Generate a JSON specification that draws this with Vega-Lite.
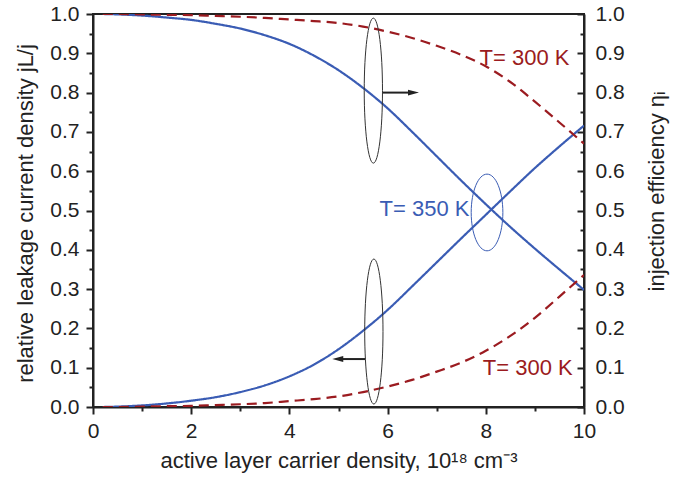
{
  "$schema": "https://vega.github.io/schema/vega-lite/v6.json",
  "width": 491,
  "height": 393,
  "autosize": "none",
  "padding": {"left": 93, "top": 14, "right": 100, "bottom": 70},
  "background": "white",
  "config": {
    "view": {"stroke": "#222", "strokeWidth": 2},
    "font": "Liberation Sans",
    "axis": {
      "grid": false,
      "labelFont": "Liberation Sans",
      "titleFont": "Liberation Sans",
      "labelFontSize": 21,
      "titleFontSize": 22,
      "titleFontWeight": "normal",
      "labelColor": "#222",
      "titleColor": "#222",
      "domainColor": "#222",
      "tickColor": "#222",
      "domainWidth": 2,
      "tickWidth": 2,
      "labelFlush": false,
      "labelOverlap": false
    }
  },
  "datasets": {
    "curves": [
      {"x": 0.2, "v": 0.0, "series": "L350", "temp": "350 K"},
      {"x": 0.5, "v": 0.001, "series": "L350", "temp": "350 K"},
      {"x": 1, "v": 0.004, "series": "L350", "temp": "350 K"},
      {"x": 1.5, "v": 0.009, "series": "L350", "temp": "350 K"},
      {"x": 2, "v": 0.016, "series": "L350", "temp": "350 K"},
      {"x": 2.5, "v": 0.025, "series": "L350", "temp": "350 K"},
      {"x": 3, "v": 0.038, "series": "L350", "temp": "350 K"},
      {"x": 3.5, "v": 0.055, "series": "L350", "temp": "350 K"},
      {"x": 4, "v": 0.078, "series": "L350", "temp": "350 K"},
      {"x": 4.5, "v": 0.108, "series": "L350", "temp": "350 K"},
      {"x": 5, "v": 0.147, "series": "L350", "temp": "350 K"},
      {"x": 5.5, "v": 0.194, "series": "L350", "temp": "350 K"},
      {"x": 6, "v": 0.247, "series": "L350", "temp": "350 K"},
      {"x": 6.5, "v": 0.307, "series": "L350", "temp": "350 K"},
      {"x": 7, "v": 0.368, "series": "L350", "temp": "350 K"},
      {"x": 7.5, "v": 0.429, "series": "L350", "temp": "350 K"},
      {"x": 8, "v": 0.489, "series": "L350", "temp": "350 K"},
      {"x": 8.5, "v": 0.549, "series": "L350", "temp": "350 K"},
      {"x": 9, "v": 0.608, "series": "L350", "temp": "350 K"},
      {"x": 9.5, "v": 0.663, "series": "L350", "temp": "350 K"},
      {"x": 10, "v": 0.716, "series": "L350", "temp": "350 K"},
      {"x": 0.2, "v": 1.0, "series": "E350", "temp": "350 K"},
      {"x": 0.5, "v": 0.999, "series": "E350", "temp": "350 K"},
      {"x": 1, "v": 0.996, "series": "E350", "temp": "350 K"},
      {"x": 1.5, "v": 0.991, "series": "E350", "temp": "350 K"},
      {"x": 2, "v": 0.985, "series": "E350", "temp": "350 K"},
      {"x": 2.5, "v": 0.975, "series": "E350", "temp": "350 K"},
      {"x": 3, "v": 0.963, "series": "E350", "temp": "350 K"},
      {"x": 3.5, "v": 0.946, "series": "E350", "temp": "350 K"},
      {"x": 4, "v": 0.924, "series": "E350", "temp": "350 K"},
      {"x": 4.5, "v": 0.894, "series": "E350", "temp": "350 K"},
      {"x": 5, "v": 0.857, "series": "E350", "temp": "350 K"},
      {"x": 5.5, "v": 0.812, "series": "E350", "temp": "350 K"},
      {"x": 6, "v": 0.76, "series": "E350", "temp": "350 K"},
      {"x": 6.5, "v": 0.7, "series": "E350", "temp": "350 K"},
      {"x": 7, "v": 0.638, "series": "E350", "temp": "350 K"},
      {"x": 7.5, "v": 0.576, "series": "E350", "temp": "350 K"},
      {"x": 8, "v": 0.516, "series": "E350", "temp": "350 K"},
      {"x": 8.5, "v": 0.458, "series": "E350", "temp": "350 K"},
      {"x": 9, "v": 0.403, "series": "E350", "temp": "350 K"},
      {"x": 9.5, "v": 0.35, "series": "E350", "temp": "350 K"},
      {"x": 10, "v": 0.298, "series": "E350", "temp": "350 K"},
      {"x": 0.2, "v": 0.0, "series": "L300", "temp": "300 K"},
      {"x": 0.5, "v": 0.0, "series": "L300", "temp": "300 K"},
      {"x": 1, "v": 0.001, "series": "L300", "temp": "300 K"},
      {"x": 1.5, "v": 0.002, "series": "L300", "temp": "300 K"},
      {"x": 2, "v": 0.003, "series": "L300", "temp": "300 K"},
      {"x": 2.5, "v": 0.005, "series": "L300", "temp": "300 K"},
      {"x": 3, "v": 0.007, "series": "L300", "temp": "300 K"},
      {"x": 3.5, "v": 0.01, "series": "L300", "temp": "300 K"},
      {"x": 4, "v": 0.015, "series": "L300", "temp": "300 K"},
      {"x": 4.5, "v": 0.02, "series": "L300", "temp": "300 K"},
      {"x": 5, "v": 0.027, "series": "L300", "temp": "300 K"},
      {"x": 5.5, "v": 0.038, "series": "L300", "temp": "300 K"},
      {"x": 6, "v": 0.052, "series": "L300", "temp": "300 K"},
      {"x": 6.5, "v": 0.069, "series": "L300", "temp": "300 K"},
      {"x": 7, "v": 0.09, "series": "L300", "temp": "300 K"},
      {"x": 7.5, "v": 0.113, "series": "L300", "temp": "300 K"},
      {"x": 8, "v": 0.143, "series": "L300", "temp": "300 K"},
      {"x": 8.5, "v": 0.181, "series": "L300", "temp": "300 K"},
      {"x": 9, "v": 0.227, "series": "L300", "temp": "300 K"},
      {"x": 9.5, "v": 0.281, "series": "L300", "temp": "300 K"},
      {"x": 10, "v": 0.336, "series": "L300", "temp": "300 K"},
      {"x": 0.2, "v": 1.0, "series": "E300", "temp": "300 K"},
      {"x": 0.5, "v": 1.0, "series": "E300", "temp": "300 K"},
      {"x": 1, "v": 0.999, "series": "E300", "temp": "300 K"},
      {"x": 1.5, "v": 0.998, "series": "E300", "temp": "300 K"},
      {"x": 2, "v": 0.997, "series": "E300", "temp": "300 K"},
      {"x": 2.5, "v": 0.995, "series": "E300", "temp": "300 K"},
      {"x": 3, "v": 0.993, "series": "E300", "temp": "300 K"},
      {"x": 3.5, "v": 0.99, "series": "E300", "temp": "300 K"},
      {"x": 4, "v": 0.986, "series": "E300", "temp": "300 K"},
      {"x": 4.5, "v": 0.982, "series": "E300", "temp": "300 K"},
      {"x": 5, "v": 0.977, "series": "E300", "temp": "300 K"},
      {"x": 5.5, "v": 0.968, "series": "E300", "temp": "300 K"},
      {"x": 6, "v": 0.955, "series": "E300", "temp": "300 K"},
      {"x": 6.5, "v": 0.939, "series": "E300", "temp": "300 K"},
      {"x": 7, "v": 0.919, "series": "E300", "temp": "300 K"},
      {"x": 7.5, "v": 0.896, "series": "E300", "temp": "300 K"},
      {"x": 8, "v": 0.867, "series": "E300", "temp": "300 K"},
      {"x": 8.5, "v": 0.827, "series": "E300", "temp": "300 K"},
      {"x": 9, "v": 0.777, "series": "E300", "temp": "300 K"},
      {"x": 9.5, "v": 0.724, "series": "E300", "temp": "300 K"},
      {"x": 10, "v": 0.67, "series": "E300", "temp": "300 K"}
    ],
    "ellipses": [
      {"x": 5.71, "y": 0.805},
      {"x": 5.72, "y": 0.192}
    ],
    "ellipse350": [
      {"x": 8.025, "y": 0.495}
    ],
    "arrows": [
      {"x": 5.904, "x2": 6.45, "y": 0.8},
      {"x": 5.545, "x2": 5.05, "y": 0.122}
    ],
    "heads": [
      {"x": 6.64, "y": 0.8, "dir": "right"},
      {"x": 4.873, "y": 0.122, "dir": "left"}
    ],
    "labels": [
      {"x": 7.873, "y": 0.87, "text": "T= 300 K", "temp": "300 K"},
      {"x": 7.94, "y": 0.081, "text": "T= 300 K", "temp": "300 K"},
      {"x": 5.837, "y": 0.486, "text": "T= 350 K", "temp": "350 K"}
    ]
  },
  "layer": [
    {
      "data": {"name": "curves"},
      "mark": {"type": "line", "strokeWidth": 2.2, "clip": true, "interpolate": "monotone"},
      "encoding": {
        "x": {
          "field": "x", "type": "quantitative",
          "scale": {"domain": [0, 10], "nice": false, "zero": false},
          "axis": {
            "orient": "bottom",
            "values": [0, 2, 4, 6, 8, 10],
            "format": "d",
            "tickSize": 7,
            "labelPadding": 6,
            "title": "active layer carrier density, 10¹⁸ cm⁻³",
            "titleBaseline": "alphabetic",
            "titleY": 60
          }
        },
        "y": {
          "field": "v", "type": "quantitative",
          "scale": {"domain": [0, 1], "nice": false},
          "axis": {
            "orient": "left",
            "values": [0, 0.1, 0.2, 0.3, 0.4, 0.5, 0.6, 0.7, 0.8, 0.9, 1.0],
            "format": ".1f",
            "tickSize": 7,
            "labelPadding": 7,
            "title": "relative leakage current density jL/j",
            "titleAngle": -90,
            "titleAlign": "center",
            "titleBaseline": "alphabetic",
            "titleX": -61,
            "titleY": 199
          }
        },
        "color": {
          "field": "temp", "type": "nominal",
          "scale": {"domain": ["350 K", "300 K"], "range": ["#3A5CB4", "#9B1B20"]},
          "legend": null
        },
        "strokeDash": {
          "field": "temp", "type": "nominal",
          "scale": {"domain": ["350 K", "300 K"], "range": [[1, 0], [10, 6]]},
          "legend": null
        },
        "detail": {"field": "series", "type": "nominal"}
      }
    },
    {
      "data": {"name": "ellipses"},
      "mark": {
        "type": "point",
        "shape": "M 0 -1 A 0.126 1 0 1 1 0 1 A 0.126 1 0 1 1 0 -1 Z",
        "size": 21025,
        "filled": false,
        "stroke": "#333",
        "strokeWidth": 1,
        "opacity": 1
      },
      "encoding": {
        "x": {
          "field": "x", "type": "quantitative",
          "scale": {"domain": [0, 10], "nice": false, "zero": false},
          "axis": {"orient": "bottom", "values": [1, 3, 5, 7, 9], "labels": false, "domain": false, "tickSize": 4, "title": null}
        },
        "y": {
          "field": "y", "type": "quantitative",
          "scale": {"domain": [0, 1], "nice": false},
          "axis": {"orient": "left", "values": [0.05, 0.15, 0.25, 0.35, 0.45, 0.55, 0.65, 0.75, 0.85, 0.95], "labels": false, "domain": false, "tickSize": 4, "title": null}
        }
      }
    },
    {
      "data": {"name": "ellipse350"},
      "mark": {
        "type": "point",
        "shape": "M 0 -1 A 0.413 1 0 1 1 0 1 A 0.413 1 0 1 1 0 -1 Z",
        "size": 5883,
        "filled": false,
        "stroke": "#3A5CB4",
        "strokeWidth": 1,
        "opacity": 1
      },
      "encoding": {
        "x": {"field": "x", "type": "quantitative", "scale": {"domain": [0, 10], "nice": false, "zero": false}, "axis": null},
        "y": {"field": "y", "type": "quantitative", "scale": {"domain": [0, 1], "nice": false}, "axis": null}
      }
    },
    {
      "data": {"name": "arrows"},
      "mark": {"type": "rule", "stroke": "#222", "strokeWidth": 2},
      "encoding": {
        "x": {"field": "x", "type": "quantitative", "scale": {"domain": [0, 10], "nice": false, "zero": false}, "axis": null},
        "x2": {"field": "x2"},
        "y": {
          "field": "y", "type": "quantitative",
          "scale": {"domain": [0, 1], "nice": false},
          "axis": {
            "orient": "right",
            "values": [0, 0.1, 0.2, 0.3, 0.4, 0.5, 0.6, 0.7, 0.8, 0.9, 1.0],
            "format": ".1f",
            "tickSize": -7,
            "labelPadding": 18,
            "title": "injection efficiency ηᵢ",
            "titleAngle": -90,
            "titleAlign": "center",
            "titleBaseline": "alphabetic",
            "titleX": 79,
            "titleY": 177
          }
        }
      }
    },
    {
      "data": {"name": "heads"},
      "mark": {"type": "point", "size": 484, "filled": true, "color": "#222", "opacity": 1},
      "encoding": {
        "x": {"field": "x", "type": "quantitative", "scale": {"domain": [0, 10], "nice": false, "zero": false}, "axis": null},
        "y": {
          "field": "y", "type": "quantitative",
          "scale": {"domain": [0, 1], "nice": false},
          "axis": {"orient": "right", "values": [0.05, 0.15, 0.25, 0.35, 0.45, 0.55, 0.65, 0.75, 0.85, 0.95], "labels": false, "domain": false, "tickSize": -4, "title": null}
        },
        "shape": {
          "field": "dir", "type": "nominal",
          "scale": {"domain": ["right", "left"], "range": ["M 0 0 L -1 -0.27 L -1 0.27 Z", "M 0 0 L 1 -0.27 L 1 0.27 Z"]},
          "legend": null
        }
      }
    },
    {
      "data": {"name": "labels"},
      "mark": {"type": "text", "align": "left", "baseline": "alphabetic", "font": "Liberation Sans", "fontSize": 22},
      "encoding": {
        "x": {"field": "x", "type": "quantitative", "scale": {"domain": [0, 10], "nice": false, "zero": false}, "axis": null},
        "y": {"field": "y", "type": "quantitative", "scale": {"domain": [0, 1], "nice": false}, "axis": null},
        "text": {"field": "text"},
        "color": {
          "field": "temp", "type": "nominal",
          "scale": {"domain": ["350 K", "300 K"], "range": ["#3A5CB4", "#9B1B20"]},
          "legend": null
        }
      }
    }
  ],
  "resolve": {"axis": {"x": "independent", "y": "independent"}}
}
